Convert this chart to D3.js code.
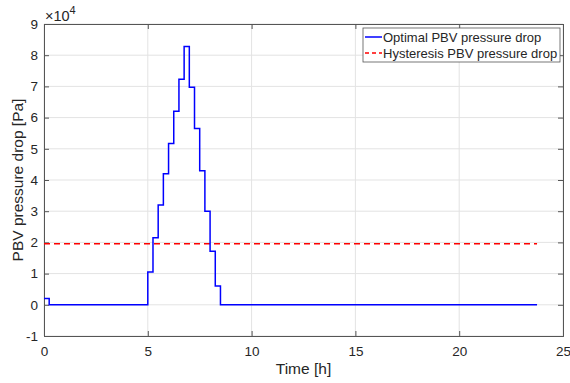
<!DOCTYPE html>
<html>
<head>
<meta charset="utf-8">
<script src="https://cdn.jsdelivr.net/npm/d3@7"></script>
<style>
  body { margin: 0; background: #fff; }
  text { font-family: Helvetica, Arial, "Liberation Sans", sans-serif; }
</style>
</head>
<body>
<div id="chart"></div>
<script>
// Datos (tiempo en h, presion en Pa)
const tiempos = [0, 0.25, 5.0, 5.25, 5.5, 5.75, 6.0, 6.25, 6.5, 6.75, 7.0, 7.25, 7.5, 7.75, 8.0, 8.25, 8.5, 23.75];
const presionOptima = [2000, 0, 10500, 21500, 32000, 42000, 51700, 62000, 72300, 82800, 69700, 56500, 43000, 30000, 17200, 6000, 0, 0];
const presionHisteresis = 19600;
const tiempoFinal = 23.75;

const xTicks = [0, 5, 10, 15, 20, 25];
const yTicks = [-1, 0, 1, 2, 3, 4, 5, 6, 7, 8, 9];
const leyenda = ["Optimal PBV pressure drop", "Hysteresis PBV pressure drop"];

const WIDTH = 570;
const HEIGHT = 383;
const MARGIN = { top: 24, bottom: 47, left: 44, right: 7 };

const svg = d3.select("#chart")
    .append("svg")
    .attr("width", WIDTH)
    .attr("height", HEIGHT);

const x = d3.scaleLinear().domain([0, 25]).range([MARGIN.left, WIDTH - MARGIN.right]);
const y = d3.scaleLinear().domain([-1e4, 9e4]).range([HEIGHT - MARGIN.bottom, MARGIN.top]);

const colorEje = "#555555";
const colorGrid = "#e3e3e3";

// grilla
svg.append("g")
    .selectAll("line")
    .data(xTicks)
    .join("line")
    .attr("x1", d => x(d)).attr("x2", d => x(d))
    .attr("y1", y(-1e4)).attr("y2", y(9e4))
    .attr("stroke", colorGrid);

svg.append("g")
    .selectAll("line")
    .data(yTicks)
    .join("line")
    .attr("x1", x(0)).attr("x2", x(25))
    .attr("y1", d => y(d * 1e4)).attr("y2", d => y(d * 1e4))
    .attr("stroke", colorGrid);

// ejes
const ejeX = d3.axisBottom(x).tickValues(xTicks).tickSize(-5).tickPadding(10);
const ejeY = d3.axisLeft(y).tickValues(yTicks.map(d => d * 1e4)).tickFormat(d => d / 1e4).tickSize(-5).tickPadding(6);
const ejeXTop = d3.axisTop(x).tickValues(xTicks).tickSize(-5).tickFormat("");
const ejeYRight = d3.axisRight(y).tickValues(yTicks.map(d => d * 1e4)).tickSize(-5).tickFormat("");

function estiloEje(g) {
    g.select(".domain").attr("stroke", colorEje);
    g.selectAll(".tick line").attr("stroke", colorEje);
    g.selectAll(".tick text").attr("fill", "#262626").attr("font-size", 13.5)
        .style("font-family", "Helvetica, Arial, 'Liberation Sans', sans-serif");
}

svg.append("g").attr("transform", `translate(0, ${y(-1e4)})`).call(ejeX).call(estiloEje);
svg.append("g").attr("transform", `translate(${x(0)}, 0)`).call(ejeY).call(estiloEje);
svg.append("g").attr("transform", `translate(0, ${y(9e4)})`).call(ejeXTop).call(estiloEje);
svg.append("g").attr("transform", `translate(${x(25)}, 0)`).call(ejeYRight).call(estiloEje);

// series
const datos = tiempos.map((t, i) => ({ t: t, p: presionOptima[i] }));

const linea = d3.line()
    .x(d => x(d.t))
    .y(d => y(d.p))
    .curve(d3.curveStepAfter);

svg.append("path")
    .datum([{ t: 0, p: presionHisteresis }, { t: tiempoFinal, p: presionHisteresis }])
    .attr("d", linea)
    .attr("fill", "none")
    .attr("stroke", "#ff0000")
    .attr("stroke-width", 1.5)
    .attr("stroke-dasharray", "6,4");

svg.append("path")
    .datum(datos)
    .attr("d", linea)
    .attr("fill", "none")
    .attr("stroke", "#0000ff")
    .attr("stroke-width", 1.5);

// multiplicador
const mult = svg.append("text")
    .attr("x", x(0) + 1)
    .attr("y", MARGIN.top - 3)
    .attr("font-size", 14.5)
    .attr("fill", "#262626");
mult.append("tspan").text("×10");
mult.append("tspan").attr("dy", -7).attr("font-size", 11).text("4");

// titulos
svg.append("text")
    .text("Time [h]")
    .attr("x", (x(0) + x(25)) / 2)
    .attr("y", HEIGHT - 9)
    .attr("font-size", 15.5)
    .attr("fill", "#262626")
    .style("text-anchor", "middle");

svg.append("text")
    .text("PBV pressure drop [Pa]")
    .attr("transform", `translate(23, ${(y(-1e4) + y(9e4)) / 2}) rotate(-90)`)
    .attr("font-size", 15.5)
    .attr("fill", "#262626")
    .style("text-anchor", "middle");

// leyenda
const legX = 363, legY = 28, legW = 197, legH = 34;
const leg = svg.append("g");
leg.append("rect")
    .attr("x", legX).attr("y", legY)
    .attr("width", legW).attr("height", legH)
    .attr("fill", "#fff")
    .attr("stroke", colorEje)
    .attr("stroke-width", 0.8);

const colores = ["#0000ff", "#ff0000"];
const dashes = ["none", "4,3"];
leyenda.forEach((nombre, i) => {
    const yy = legY + 9 + i * 16;
    leg.append("line")
        .attr("x1", legX + 2).attr("x2", legX + 19)
        .attr("y1", yy).attr("y2", yy)
        .attr("stroke", colores[i])
        .attr("stroke-width", 1.5)
        .attr("stroke-dasharray", dashes[i]);
    leg.append("text")
        .text(nombre)
        .attr("x", legX + 20)
        .attr("y", yy + 4.5)
        .attr("font-size", 13)
        .attr("fill", "#262626");
});
</script>
</body>
</html>
